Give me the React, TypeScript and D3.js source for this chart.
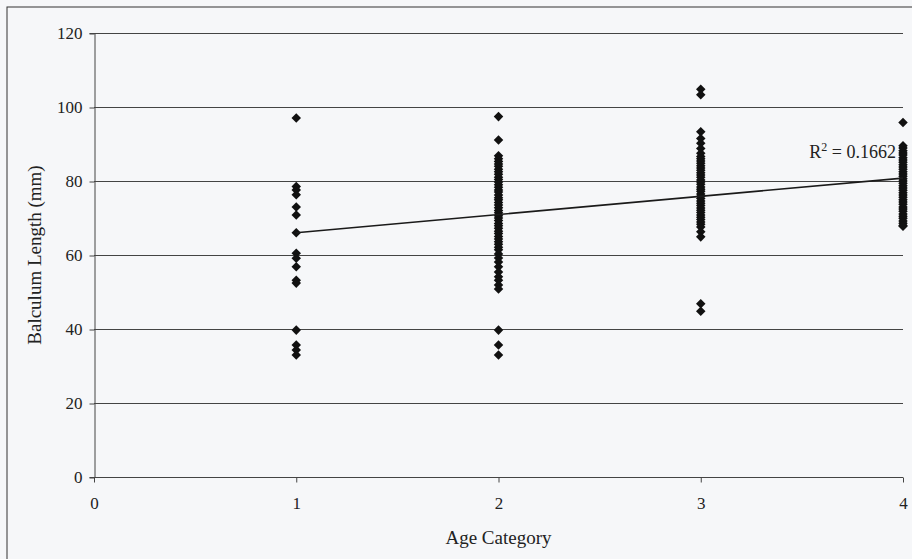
import React, { useRef, useEffect } from 'react';
import * as d3 from 'd3';

// balculum length (mm) per age category
const age1 = [97, 78.5, 77.6, 76.3, 73, 70.8, 66, 60.5, 59.1, 56.8, 53.2, 52.4, 39.7, 35.7, 34.3, 33];
const age2 = [
  97.4, 91.1, 86.8, 86, 85.3, 84.6, 84, 83.2, 82.5, 81.8, 81, 80.4, 79.7, 79, 78.3, 77.6, 77, 76.2,
  75.5, 74.9, 74.2, 73.5, 72.8, 72, 71.4, 70.6, 70, 69.3, 68.5, 67.9, 67.2, 66.4, 65.8, 65, 64.3,
  63.6, 62.9, 62.1, 61.4, 60.3, 59.2, 58.1, 56.8, 55.4, 54.1, 53.2, 51.9, 50.8, 39.7, 35.7, 33,
];
const age3 = [
  104.8, 103.3, 93.3, 91.5, 90.2, 88.8, 87.5, 86.6, 86, 85.4, 84.8, 84.1, 83.5, 82.9, 82.2, 81.6,
  81, 80.3, 79.7, 79.1, 78.4, 77.8, 77.2, 76.5, 75.9, 75.3, 74.6, 74, 73.4, 72.7, 72.1, 71.5, 70.8,
  70.2, 69.6, 68.9, 68.3, 67.6, 66.3, 64.9, 46.8, 44.8,
];
const age4 = [
  95.8, 89.5, 88.9, 88.2, 87.6, 87, 86.3, 85.7, 85.1, 84.4, 83.8, 83.2, 82.5, 81.9, 81.3, 80.6, 80,
  79.4, 78.7, 78.1, 77.5, 76.8, 76.2, 75.6, 74.9, 74.3, 73.7, 73, 72.4, 71.8, 71.1, 70.5, 69.9,
  69.2, 68.6, 68, 67.8,
];
const groups = [age1, age2, age3, age4];
const xTicks = [0, 1, 2, 3, 4];
const yTicks = [0, 20, 40, 60, 80, 100, 120];

// linear trendline as printed on the chart
const trendIntercept = 61.1;
const trendSlope = 4.92;
const rSquared = '0.1662';

const App = () => {
  const svgRef = useRef<SVGSVGElement>(null);

  useEffect(() => {
    const svg = d3.select(svgRef.current);
    svg.selectAll('*').remove();

    const width = 912;
    const height = 559;
    const margin = { top: 33, right: 9, bottom: 82, left: 94 };
    const font = '"Liberation Serif", "Times New Roman", serif';

    svg.append('rect').attr('width', width).attr('height', height).attr('fill', '#f6f7f9');
    // outer chart frame (cut off at the right and bottom in the scan)
    svg.append('rect')
      .attr('x', 7).attr('y', 7)
      .attr('width', width + 20).attr('height', height + 20)
      .attr('fill', 'none').attr('stroke', '#333').attr('stroke-width', 1);

    const x = d3.scaleLinear().domain([0, 4]).range([margin.left, width - margin.right]);
    const y = d3.scaleLinear().domain([0, 120]).range([height - margin.bottom, margin.top]);

    // gridlines
    svg.append('g')
      .selectAll('line')
      .data(yTicks)
      .join('line')
      .attr('x1', x(0)).attr('x2', x(4))
      .attr('y1', d => y(d) + 0.5).attr('y2', d => y(d) + 0.5)
      .attr('stroke', '#444').attr('stroke-width', 1);

    const yAxisG = svg.append('g')
      .attr('transform', `translate(${x(0) + 0.5},0)`)
      .call(d3.axisLeft(y).tickValues(yTicks).tickFormat(d3.format('d')).tickSize(5).tickPadding(7));
    yAxisG.select('.domain').attr('stroke', '#444');
    yAxisG.selectAll('.tick line').attr('stroke', '#444').attr('transform', 'translate(0,0.5)');
    yAxisG.selectAll('text')
      .attr('font-family', font).attr('font-size', 17).attr('fill', '#222');

    const xAxisG = svg.append('g')
      .attr('transform', `translate(0,${y(0) + 0.5})`)
      .call(d3.axisBottom(x).tickValues(xTicks).tickFormat(d3.format('d')).tickSize(5).tickPadding(14));
    xAxisG.select('.domain').remove();
    xAxisG.selectAll('.tick line').attr('stroke', '#444');
    xAxisG.selectAll('text')
      .attr('font-family', font).attr('font-size', 17).attr('fill', '#222');

    // points
    const pts = groups.flatMap((vals, i) => vals.map(v => ({ age: i + 1, v })));
    const diamond = d3.symbol().type(d3.symbolDiamond2).size(58);
    svg.append('g')
      .selectAll('path')
      .data(pts)
      .join('path')
      .attr('d', diamond)
      .attr('transform', d => `translate(${x(d.age)},${y(d.v)})`)
      .attr('fill', '#111');

    // trendline
    svg.append('line')
      .attr('x1', x(1)).attr('y1', y(trendIntercept + trendSlope))
      .attr('x2', x(4)).attr('y2', y(trendIntercept + trendSlope * 4))
      .attr('stroke', '#1a1a1a').attr('stroke-width', 1.6);

    const rt = svg.append('text')
      .attr('x', 896).attr('y', 158)
      .attr('text-anchor', 'end')
      .attr('font-family', font).attr('font-size', 18).attr('fill', '#222');
    rt.append('tspan').text('R');
    rt.append('tspan').attr('dy', -7).attr('font-size', 12).text('2');
    rt.append('tspan').attr('dy', 7).text(` = ${rSquared}`);

    svg.append('text')
      .attr('x', x(2))
      .attr('y', 544)
      .attr('text-anchor', 'middle')
      .attr('font-family', font).attr('font-size', 19).attr('fill', '#222')
      .text('Age Category');

    svg.append('text')
      .attr('x', -y(60))
      .attr('y', 41)
      .attr('text-anchor', 'middle')
      .attr('transform', 'rotate(-90)')
      .attr('font-family', font).attr('font-size', 19).attr('fill', '#222')
      .text('Balculum Length (mm)');
  }, []);

  return (
    <svg
      ref={svgRef}
      width={912}
      height={559}
      style={{ position: 'absolute', left: 0, top: 0, display: 'block' }}
    ></svg>
  );
};

export default App;
